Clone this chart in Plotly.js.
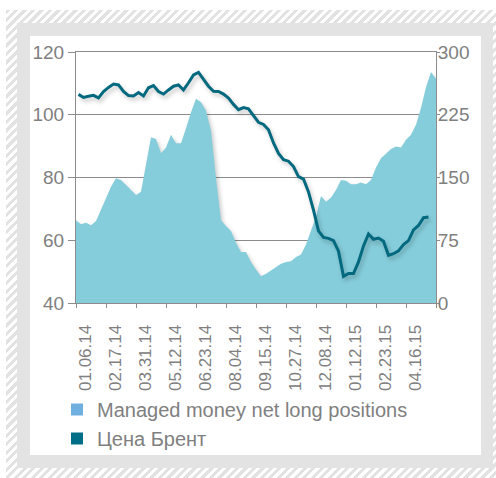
<!DOCTYPE html>
<html>
<head>
<meta charset="utf-8">
<script src="https://cdn.plot.ly/plotly-3.0.1.min.js"></script>
<style>
html,body{margin:0;padding:0;background:#fff;}
#hatch{position:absolute;left:6px;top:10px;width:490px;height:468px;background:repeating-linear-gradient(135deg,#e2e2e2 0px,#e2e2e2 3px,#ffffff 3px,#ffffff 6px);}
#band{position:absolute;left:17px;top:23px;width:476px;height:445px;background:#e3e3e3;}
#panel{position:absolute;left:30px;top:36px;width:451px;height:419px;background:#ffffff;}
#chart{position:absolute;left:0;top:0;width:496px;height:478px;}
#chart .scatterlayer .trace{filter:drop-shadow(2px 3px 2px rgba(0,0,0,0.22));}
</style>
</head>
<body>
<div id="hatch"></div>
<div id="band"></div>
<div id="panel"></div>
<div id="chart"></div>
<script>
// Tick labels (every 6th weekly observation)
const dateLabels = ["01.06.14","02.17.14","03.31.14","05.12.14","06.23.14","08.04.14","09.15.14","10.27.14","12.08.14","01.12.15","02.23.15","04.16.15"];

// Managed money net long positions (thousand contracts, right axis)
const managedMoney = [99,94,96,93,98,112,126,139,149,147,141,135,129,133,164,198,196,179,186,201,
  191,191,209,228,244,240,230,206,149,99,92,86,72,61,61,49,40,32,35,39,
  43,47,49,50,55,58,70,86,103,128,121,126,135,147,146,142,142,144,142,147,
  162,173,178,184,187,186,195,201,213,233,258,276,268];

// Цена Брент (USD/bbl, left axis)
const brent = [106.5,105.5,105.9,106.2,105.4,107.4,108.7,109.8,109.5,107.4,106.1,106.0,107.1,106.0,108.6,109.3,107.4,106.6,107.9,109.1,
  109.5,107.9,110.2,112.7,113.5,111.3,109.1,107.5,107.4,106.6,105.3,103.3,101.6,102.3,101.9,99.7,97.6,96.9,95.2,91.0,
  87.7,85.7,85.2,83.5,80.3,79.5,75.4,69.6,63.0,60.9,60.6,59.9,56.5,48.5,49.4,49.4,53.1,58.2,62.0,60.3,
  60.7,59.7,55.2,55.7,56.6,58.6,59.9,63.3,64.7,67.2,67.4];

const seriesNames = ["Managed money net long positions","Цена Брент"];
const areaColor = "#86cddb";
const lineColor = "#03697f";
const legendColors = ["#6fb0e0","#006e86"];

const areaX = managedMoney.map((v,i)=>i);
const lineX = brent.map((v,i)=>i+0.5);
const tickVals = [];
const tickText = [];
for (let k=0;k<=dateLabels.length;k++){ tickVals.push(k*6); tickText.push(dateLabels[k]||""); }

const gray = "#8c8c8c";
const txt = "#808080";
const fam = "Liberation Sans, Arial, sans-serif";

const traces = [
  {type:"scatter", mode:"lines", x:areaX, y:managedMoney, xaxis:"x", yaxis:"y",
   fill:"tozeroy", fillcolor:areaColor, line:{width:0, color:areaColor}, showlegend:false, hoverinfo:"skip"},
  {type:"scatter", mode:"lines", x:lineX, y:brent, xaxis:"x", yaxis:"y2",
   line:{width:3, color:lineColor}, showlegend:false, hoverinfo:"skip"},
  {type:"bar", x:[null], y:[null], name:seriesNames[0], marker:{color:legendColors[0]}, showlegend:true},
  {type:"bar", x:[null], y:[null], name:seriesNames[1], marker:{color:legendColors[1]}, showlegend:true}
];

const layout = {
  width:496, height:478,
  margin:{l:76, r:60, t:52, b:175, autoexpand:false},
  paper_bgcolor:"rgba(0,0,0,0)", plot_bgcolor:"rgba(0,0,0,0)",
  font:{family:fam, color:txt},
  showlegend:true,
  legend:{x:(57-76)/360, y:(303-390)/251, xanchor:"left", yanchor:"top",
    font:{size:20, color:txt, family:fam}, bgcolor:"rgba(0,0,0,0)", traceorder:"normal"},
  xaxis:{range:[0,72], tickmode:"array", tickvals:tickVals, ticktext:tickText, tickangle:-90,
    ticks:"outside", ticklen:4, tickcolor:gray, showline:true, linecolor:gray, linewidth:1, mirror:true,
    showgrid:false, zeroline:false, tickfont:{size:17, color:txt, family:fam}, ticklabelshift:9, ticklabelstandoff:10},
  yaxis:{side:"right", range:[0,300], tickvals:[0,75,150,225,300], ticks:"outside", ticklen:3, tickcolor:gray,
    showline:true, linecolor:gray, linewidth:1, showgrid:true, gridcolor:gray, gridwidth:1, zeroline:false,
    tickfont:{size:19, color:txt, family:fam}, ticklabelstandoff:-6},
  yaxis2:{side:"left", overlaying:"y", range:[40,120], tickvals:[40,60,80,100,120], ticks:"outside", ticklen:7,
    tickcolor:gray, showline:true, linecolor:gray, linewidth:1, showgrid:false, zeroline:false,
    tickfont:{size:19, color:txt, family:fam}}
};

Plotly.newPlot("chart", traces, layout, {staticPlot:true, displayModeBar:false});
</script>
</body>
</html>
